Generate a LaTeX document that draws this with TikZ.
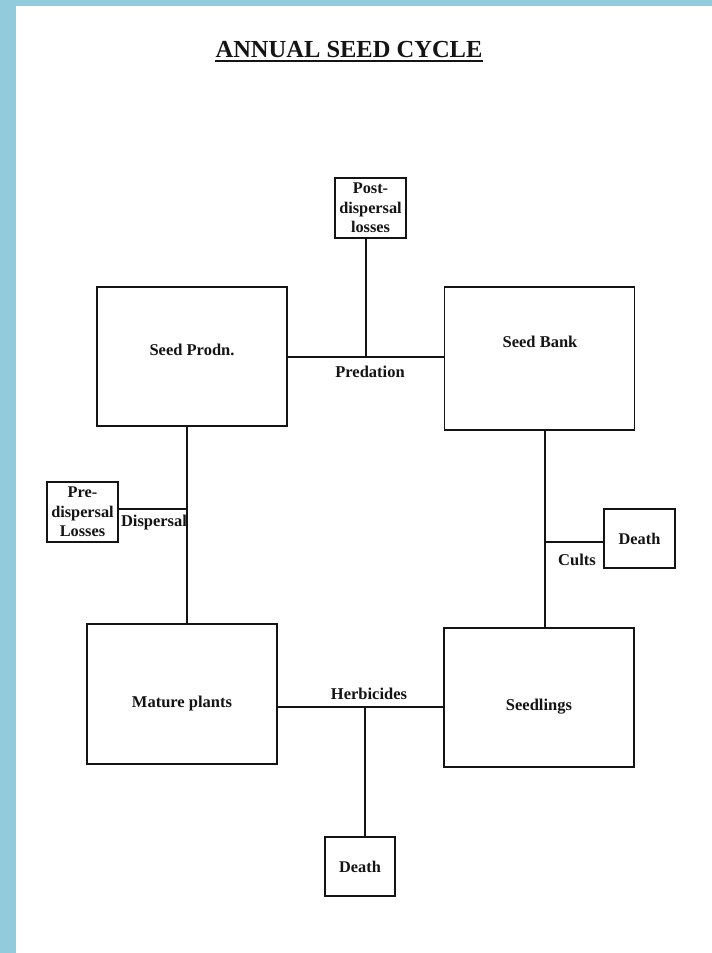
\documentclass[tikz,border=0pt]{standalone}
\usepackage{fontspec}
\setmainfont{Liberation Serif}
\definecolor{frameblue}{RGB}{146,203,220}
\definecolor{ink}{RGB}{20,20,20}
\begin{document}
\begin{tikzpicture}[x=1pt,y=-1pt,
  bigbox/.style={draw=ink,line width=1.6pt,minimum width=190pt,inner sep=0pt},
  smallbox/.style={draw=ink,line width=1.6pt,minimum width=71pt,minimum height=60pt,inner sep=0pt,align=center,font=\fontsize{16.3}{19.5}\selectfont\bfseries,text=ink},
  lbl/.style={inner sep=0pt,font=\fontsize{16.5}{19}\selectfont\bfseries,text=ink},
  conn/.style={draw=ink,line width=1.6pt}]
\useasboundingbox (0,0) rectangle (712,953);
\fill[frameblue] (0,0) rectangle (712,953);
\fill[white] (16,6) rectangle (712,953);
% title
\node[inner sep=0pt,anchor=base,font=\fontsize{24.5}{28}\selectfont\bfseries,text=ink] (title) at (349,57.3) {ANNUAL SEED CYCLE};
\draw[ink,line width=1.9pt] ([yshift=-3.6pt]title.base west) -- ([yshift=-3.6pt]title.base east);
% main boxes
\node[bigbox,minimum height=139pt] (sp) at (192,356.5) {};
\node[lbl] (sptxt) at (192,350) {Seed Prodn.};
\node[bigbox,minimum height=143pt] (sb) at (539.3,358.5) {};
\node[lbl] (sbtxt) at (540,342) {Seed Bank};
\node[bigbox,minimum height=140pt] (mp) at (182,694) {};
\node[lbl] (mptxt) at (182,704) {Mature plants};
\node[bigbox,minimum height=139pt] (sl) at (539,697.5) {};
\node[lbl] (sltxt) at (539,707) {Seedlings};
% small boxes
\node[smallbox] (post) at (370.5,208) {Post-\\dispersal\\losses};
\node[smallbox] (pre) at (82.5,512) {Pre-\\dispersal\\Losses};
\node[smallbox,minimum height=59pt] (deathr) at (639.5,538.5) {Death};
\node[smallbox,minimum width=70pt,minimum height=59pt] (deathb) at (360,866.5) {Death};
% junctions
\coordinate (jpred) at (366,357);
\coordinate (jdisp) at (187,509);
\coordinate (jcult) at (545,541.7);
\coordinate (jherb) at (365,707);
% connectors
\draw[conn] (jpred -| sp.east) -- (jpred -| sb.west);
\draw[conn] (jpred |- post.south) -- (jpred);
\draw[conn] (jdisp |- sp.south) -- (jdisp |- mp.north);
\draw[conn] (jdisp -| pre.east) -- (jdisp);
\draw[conn] (jcult |- sb.south) -- (jcult |- sl.north);
\draw[conn] (jcult) -- (jcult -| deathr.west);
\draw[conn] (jherb -| mp.east) -- (jherb -| sl.west);
\draw[conn] (jherb) -- (jherb |- deathb.north);
% labels
\node[lbl] (predl) at (370,372) {Predation};
\node[lbl] (displ) at (154,523) {Dispersal};
\node[lbl] (cultl) at (577,559.5) {Cults};
\node[lbl] (herbl) at (369,694) {Herbicides};
\end{tikzpicture}
\end{document}
